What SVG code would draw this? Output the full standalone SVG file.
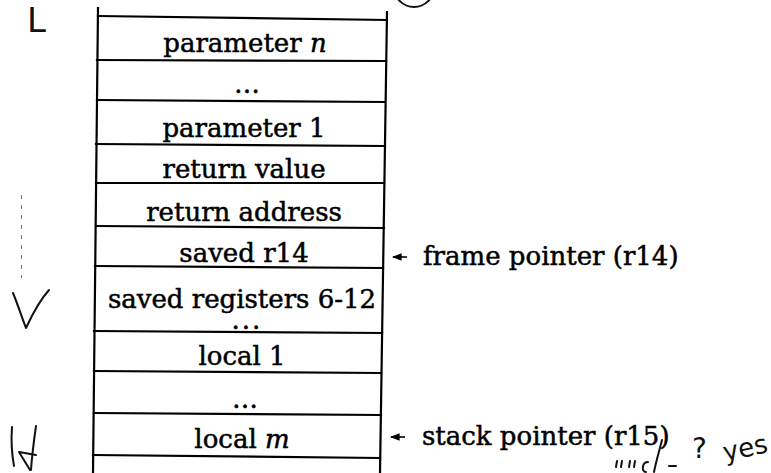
<svg xmlns="http://www.w3.org/2000/svg" width="771" height="473" viewBox="0 0 771 473">
  <style>
    .frame { stroke: #000; stroke-width: 2.2; fill: none; stroke-linecap: square; }
    .cell { font-family: "DejaVu Serif", "Liberation Serif", serif; font-size: 26px; fill: #000; stroke: #000; stroke-width: 0.5; text-anchor: middle; }
    .lbl { font-family: "DejaVu Serif", "Liberation Serif", serif; font-size: 26px; fill: #000; stroke: #000; stroke-width: 0.5; }
    .hand { stroke: #111; stroke-width: 2; fill: none; stroke-linecap: round; stroke-linejoin: round; }
    .handtxt { font-family: "DejaVu Sans", "Liberation Sans", sans-serif; fill: #111; }
    .ptr { stroke: #000; stroke-width: 1.6; fill: none; }
  </style>
  <defs>
    <marker id="head" viewBox="0 0 10 10" refX="9" refY="5" markerWidth="6" markerHeight="6" orient="auto">
      <path d="M0,1 L10,5 L0,9 z" fill="#000"/>
    </marker>
  </defs>
  <rect width="771" height="473" fill="#fff"/>

  <!-- stack frame outline: two side rails and the slot dividers -->
  <g id="stack">
    <path class="frame" d="M98,8 L93,473"/>
    <path class="frame" d="M387,12 L380,473"/>
    <path class="frame" d="M98,16 L387,20"/>
    <path class="frame" d="M97,60 L386,61"/>
    <path class="frame" d="M97,100 L385,102"/>
    <path class="frame" d="M96,144 L385,146"/>
    <path class="frame" d="M96,183 L384,183"/>
    <path class="frame" d="M96,226 L384,228"/>
    <path class="frame" d="M95,266 L383,268"/>
    <path class="frame" d="M94,331 L382,333"/>
    <path class="frame" d="M94,371 L381,373"/>
    <path class="frame" d="M94,413 L381,415"/>
    <path class="frame" d="M93,455 L380,458"/>
  </g>

  <!-- slot labels -->
  <g id="slot-param-n"><text class="cell" x="245" y="52">parameter <tspan font-style="italic">n</tspan></text></g>
  <g id="slot-param-dots"><text class="cell" x="247" y="93">…</text></g>
  <g id="slot-param-1"><text class="cell" x="244" y="137">parameter 1</text></g>
  <g id="slot-retval"><text class="cell" x="244" y="178">return value</text></g>
  <g id="slot-retaddr"><text class="cell" x="244" y="221">return address</text></g>
  <g id="slot-r14"><text class="cell" x="244" y="262">saved r14</text></g>
  <g id="slot-saved-regs">
    <text class="cell" x="242" y="308">saved registers 6-12</text>
    <text class="cell" x="247" y="329" font-size="14" letter-spacing="2">...</text>
  </g>
  <g id="slot-local-1"><text class="cell" x="242" y="365">local 1</text></g>
  <g id="slot-local-dots"><text class="cell" x="245" y="408">…</text></g>
  <g id="slot-local-m"><text class="cell" x="242" y="448">local <tspan font-style="italic">m</tspan></text></g>

  <!-- register pointers into the frame -->
  <g id="connectors">
    <path class="ptr" d="M407,257 L393,257" marker-end="url(#head)"/>
    <path class="ptr" d="M405,437 L391,437" marker-end="url(#head)"/>
  </g>
  <g id="label-fp"><text class="lbl" x="423" y="265">frame pointer (r14)</text></g>
  <g id="label-sp"><text class="lbl" x="422" y="445">stack pointer (r15)</text></g>

  <!-- pen marks in the margins -->
  <g id="pen-marks">
    <circle class="hand" cx="414" cy="-13" r="20"/>
    <text class="handtxt" x="27" y="32" font-size="34">L</text>
    <path d="M21.5,195 L21.5,278" stroke="#777" stroke-width="1" stroke-dasharray="4 6" fill="none"/>
    <path class="hand" d="M13,293 C18,305 22,318 26,328 C32,315 40,300 49,290"/>
    <path class="hand" d="M12,427 C11,440 12,455 14,466"/>
    <path class="hand" d="M36,426 C34,440 32,455 31,470"/>
    <path class="hand" d="M19,452 L36,455 M19,452 L30,470"/>
    <path class="hand" stroke-width="1.6" d="M662,440 C659,452 656,462 654,472"/>
    <path class="hand" stroke-width="1.2" d="M617,461 L616,467 M622,461 L621,467 M630,461 L629,467 M635,461 L634,467"/>
    <path class="hand" stroke-width="1.4" d="M648,462 C642,462 641,472 646,472"/>
    <path class="hand" stroke-width="1.4" d="M669,466 L676,466"/>
    <text class="handtxt" x="692" y="458" font-size="28">?</text>
    <text class="handtxt" x="723" y="458" font-size="26" transform="rotate(-12 740 450)">yes</text>
  </g>
</svg>
